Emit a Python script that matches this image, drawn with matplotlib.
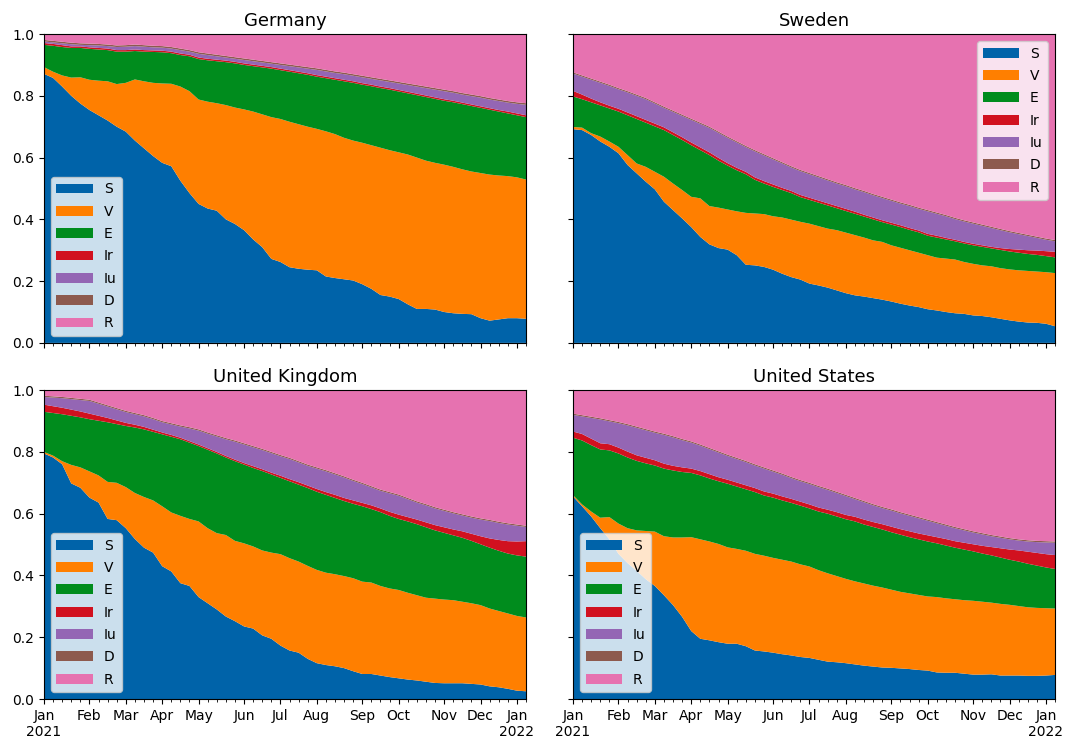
import numpy as np
import pandas as pd
import matplotlib
matplotlib.use("Agg")
import matplotlib.pyplot as plt
import matplotlib.dates as mdates

# weekly model output, Sundays from 3 Jan 2021
weeks = pd.date_range("2021-01-03", periods=54, freq="7D")

compartments = ["S", "V", "E", "Ir", "Iu", "D", "R"]
colors = ["#0063a9", "#ff7f00", "#008c1d", "#d1111f", "#9466b4", "#8d5a4e", "#e672b0"]

# s, v, e: upper edge of S, S+V, S+V+E
# ir, d: share in Ir and D
# top: upper edge of everything below R
de_s = [0.871, 0.858, 0.830, 0.800, 0.775, 0.754, 0.737, 0.720, 0.700, 0.684,
        0.655, 0.630, 0.605, 0.583, 0.572, 0.525, 0.485, 0.450, 0.435, 0.428,
        0.400, 0.385, 0.365, 0.335, 0.310, 0.272, 0.262, 0.245, 0.240, 0.237,
        0.235, 0.215, 0.210, 0.206, 0.202, 0.190, 0.175, 0.155, 0.150, 0.142,
        0.125, 0.110, 0.110, 0.108, 0.100, 0.096, 0.094, 0.093, 0.080, 0.072,
        0.076, 0.080, 0.080, 0.078]
de_v = [0.893, 0.878, 0.866, 0.859, 0.860, 0.852, 0.849, 0.847, 0.838, 0.842,
        0.853, 0.847, 0.842, 0.840, 0.839, 0.830, 0.815, 0.788, 0.781, 0.776,
        0.770, 0.762, 0.756, 0.749, 0.740, 0.731, 0.725, 0.716, 0.708, 0.700,
        0.693, 0.685, 0.676, 0.664, 0.655, 0.648, 0.640, 0.632, 0.624, 0.617,
        0.610, 0.600, 0.590, 0.583, 0.577, 0.570, 0.562, 0.555, 0.550, 0.545,
        0.542, 0.540, 0.536, 0.529]
de_e = [0.965, 0.962, 0.958, 0.955, 0.955, 0.952, 0.950, 0.948, 0.943, 0.943,
        0.945, 0.943, 0.942, 0.941, 0.938, 0.932, 0.928, 0.919, 0.915, 0.912,
        0.909, 0.905, 0.900, 0.896, 0.892, 0.888, 0.883, 0.878, 0.873, 0.868,
        0.862, 0.857, 0.852, 0.847, 0.842, 0.836, 0.831, 0.825, 0.820, 0.814,
        0.808, 0.802, 0.796, 0.790, 0.784, 0.779, 0.773, 0.767, 0.761, 0.755,
        0.749, 0.743, 0.737, 0.731]
de_ir = [0.006, 0.006, 0.006, 0.005, 0.005, 0.005, 0.005, 0.005, 0.005, 0.005,
         0.005, 0.005, 0.005, 0.005, 0.005, 0.005, 0.005, 0.005, 0.005, 0.005,
         0.005, 0.005, 0.005, 0.005, 0.005, 0.005, 0.005, 0.005, 0.005, 0.005,
         0.005, 0.005, 0.005, 0.005, 0.005, 0.005, 0.005, 0.005, 0.005, 0.005,
         0.005, 0.005, 0.005, 0.005, 0.005, 0.005, 0.005, 0.005, 0.005, 0.005,
         0.005, 0.006, 0.006, 0.006]
de_d = [0.005, 0.005, 0.005, 0.005, 0.005, 0.005, 0.005, 0.005, 0.005, 0.005,
        0.005, 0.005, 0.005, 0.005, 0.005, 0.005, 0.005, 0.005, 0.005, 0.005,
        0.005, 0.005, 0.005, 0.005, 0.005, 0.005, 0.005, 0.005, 0.005, 0.005,
        0.005, 0.005, 0.005, 0.005, 0.005, 0.005, 0.005, 0.005, 0.005, 0.005,
        0.005, 0.005, 0.005, 0.005, 0.005, 0.005, 0.005, 0.005, 0.005, 0.005,
        0.005, 0.005, 0.005, 0.005]
de_top = [0.981, 0.978, 0.975, 0.972, 0.970, 0.969, 0.968, 0.966, 0.963, 0.964,
          0.966, 0.964, 0.962, 0.961, 0.958, 0.953, 0.948, 0.941, 0.937, 0.933,
          0.929, 0.925, 0.921, 0.917, 0.913, 0.909, 0.905, 0.901, 0.897, 0.893,
          0.889, 0.884, 0.879, 0.875, 0.870, 0.865, 0.860, 0.855, 0.850, 0.845,
          0.840, 0.835, 0.830, 0.825, 0.820, 0.815, 0.809, 0.804, 0.799, 0.793,
          0.788, 0.783, 0.779, 0.776]

se_s = [0.692, 0.689, 0.673, 0.652, 0.635, 0.614, 0.576, 0.549, 0.522, 0.497,
        0.457, 0.430, 0.403, 0.375, 0.343, 0.319, 0.307, 0.302, 0.284, 0.253,
        0.251, 0.246, 0.237, 0.224, 0.213, 0.205, 0.192, 0.186, 0.179, 0.170,
        0.161, 0.154, 0.150, 0.145, 0.140, 0.134, 0.127, 0.121, 0.116, 0.109,
        0.105, 0.100, 0.096, 0.094, 0.089, 0.087, 0.083, 0.078, 0.073, 0.069,
        0.066, 0.065, 0.062, 0.054]
se_v = [0.699, 0.697, 0.679, 0.668, 0.652, 0.635, 0.608, 0.581, 0.570, 0.554,
        0.538, 0.516, 0.495, 0.473, 0.468, 0.443, 0.438, 0.432, 0.426, 0.421,
        0.419, 0.417, 0.410, 0.406, 0.399, 0.392, 0.386, 0.378, 0.370, 0.365,
        0.357, 0.349, 0.341, 0.332, 0.327, 0.316, 0.308, 0.300, 0.292, 0.284,
        0.276, 0.273, 0.270, 0.262, 0.256, 0.251, 0.248, 0.242, 0.238, 0.235,
        0.233, 0.231, 0.229, 0.226]
se_e = [0.798, 0.789, 0.779, 0.769, 0.759, 0.749, 0.737, 0.725, 0.713, 0.701,
        0.689, 0.673, 0.657, 0.640, 0.624, 0.608, 0.590, 0.574, 0.559, 0.546,
        0.528, 0.516, 0.505, 0.495, 0.485, 0.472, 0.463, 0.454, 0.445, 0.436,
        0.427, 0.418, 0.409, 0.400, 0.391, 0.383, 0.375, 0.366, 0.358, 0.347,
        0.341, 0.335, 0.329, 0.322, 0.316, 0.311, 0.306, 0.301, 0.296, 0.292,
        0.288, 0.285, 0.281, 0.277]
se_ir = [0.018, 0.015, 0.012, 0.010, 0.009, 0.009, 0.009, 0.009, 0.009, 0.009,
         0.009, 0.009, 0.009, 0.009, 0.009, 0.009, 0.009, 0.008, 0.008, 0.008,
         0.008, 0.008, 0.008, 0.007, 0.007, 0.007, 0.007, 0.007, 0.007, 0.007,
         0.007, 0.007, 0.006, 0.006, 0.006, 0.006, 0.006, 0.006, 0.006, 0.006,
         0.006, 0.005, 0.005, 0.005, 0.005, 0.005, 0.005, 0.006, 0.008, 0.010,
         0.012, 0.014, 0.016, 0.018]
se_d = [0.004, 0.004, 0.004, 0.004, 0.004, 0.004, 0.004, 0.004, 0.004, 0.004,
        0.004, 0.004, 0.004, 0.004, 0.004, 0.004, 0.004, 0.004, 0.004, 0.004,
        0.004, 0.004, 0.004, 0.004, 0.004, 0.004, 0.004, 0.004, 0.004, 0.004,
        0.004, 0.004, 0.004, 0.004, 0.004, 0.004, 0.004, 0.004, 0.004, 0.004,
        0.004, 0.004, 0.004, 0.004, 0.004, 0.004, 0.004, 0.004, 0.004, 0.004,
        0.004, 0.004, 0.004, 0.004]
se_top = [0.876, 0.866, 0.856, 0.846, 0.836, 0.825, 0.815, 0.804, 0.793, 0.779,
          0.765, 0.752, 0.739, 0.726, 0.713, 0.700, 0.684, 0.668, 0.653, 0.638,
          0.624, 0.611, 0.598, 0.585, 0.572, 0.560, 0.550, 0.540, 0.530, 0.520,
          0.511, 0.501, 0.492, 0.482, 0.473, 0.464, 0.455, 0.447, 0.438, 0.430,
          0.422, 0.414, 0.405, 0.397, 0.390, 0.383, 0.376, 0.369, 0.362, 0.356,
          0.350, 0.344, 0.338, 0.333]

uk_s = [0.795, 0.782, 0.760, 0.698, 0.684, 0.652, 0.636, 0.583, 0.579, 0.553,
        0.518, 0.490, 0.474, 0.430, 0.413, 0.375, 0.366, 0.330, 0.310, 0.290,
        0.267, 0.252, 0.235, 0.228, 0.206, 0.195, 0.173, 0.157, 0.150, 0.130,
        0.116, 0.110, 0.106, 0.100, 0.090, 0.081, 0.081, 0.076, 0.071, 0.067,
        0.063, 0.060, 0.056, 0.052, 0.051, 0.051, 0.051, 0.049, 0.047, 0.041,
        0.038, 0.033, 0.027, 0.025]
uk_v = [0.800, 0.788, 0.770, 0.758, 0.750, 0.737, 0.724, 0.703, 0.700, 0.686,
        0.667, 0.654, 0.643, 0.624, 0.604, 0.593, 0.583, 0.575, 0.553, 0.537,
        0.531, 0.512, 0.504, 0.494, 0.481, 0.474, 0.469, 0.456, 0.445, 0.431,
        0.418, 0.409, 0.404, 0.398, 0.391, 0.380, 0.377, 0.366, 0.358, 0.353,
        0.344, 0.336, 0.328, 0.325, 0.322, 0.320, 0.315, 0.310, 0.304, 0.293,
        0.285, 0.277, 0.269, 0.264]
uk_e = [0.930, 0.926, 0.922, 0.917, 0.912, 0.906, 0.901, 0.896, 0.890, 0.884,
        0.879, 0.873, 0.865, 0.857, 0.849, 0.841, 0.830, 0.819, 0.807, 0.795,
        0.782, 0.770, 0.759, 0.748, 0.738, 0.727, 0.716, 0.705, 0.694, 0.683,
        0.671, 0.661, 0.651, 0.641, 0.632, 0.624, 0.615, 0.605, 0.593, 0.583,
        0.575, 0.566, 0.556, 0.546, 0.538, 0.530, 0.522, 0.512, 0.501, 0.490,
        0.480, 0.471, 0.465, 0.461]
uk_ir = [0.023, 0.022, 0.021, 0.020, 0.019, 0.018, 0.016, 0.014, 0.012, 0.010,
         0.009, 0.008, 0.007, 0.006, 0.006, 0.005, 0.005, 0.005, 0.005, 0.005,
         0.005, 0.005, 0.005, 0.006, 0.006, 0.006, 0.007, 0.007, 0.008, 0.008,
         0.009, 0.009, 0.010, 0.010, 0.011, 0.011, 0.012, 0.012, 0.013, 0.014,
         0.014, 0.015, 0.016, 0.017, 0.018, 0.019, 0.021, 0.023, 0.026, 0.030,
         0.035, 0.040, 0.045, 0.050]
uk_d = [0.004, 0.004, 0.004, 0.004, 0.004, 0.004, 0.004, 0.004, 0.004, 0.004,
        0.004, 0.004, 0.004, 0.004, 0.004, 0.004, 0.004, 0.004, 0.004, 0.004,
        0.004, 0.004, 0.004, 0.004, 0.004, 0.004, 0.004, 0.004, 0.004, 0.004,
        0.004, 0.004, 0.004, 0.004, 0.004, 0.004, 0.004, 0.004, 0.004, 0.004,
        0.004, 0.004, 0.004, 0.004, 0.004, 0.004, 0.004, 0.004, 0.004, 0.004,
        0.004, 0.004, 0.004, 0.004]
uk_top = [0.982, 0.980, 0.978, 0.975, 0.972, 0.969, 0.960, 0.951, 0.942, 0.933,
          0.926, 0.919, 0.910, 0.900, 0.893, 0.886, 0.880, 0.873, 0.863, 0.854,
          0.845, 0.837, 0.828, 0.819, 0.810, 0.800, 0.790, 0.781, 0.770, 0.759,
          0.750, 0.741, 0.731, 0.721, 0.710, 0.700, 0.689, 0.678, 0.670, 0.662,
          0.651, 0.640, 0.631, 0.621, 0.613, 0.605, 0.598, 0.591, 0.585, 0.580,
          0.574, 0.569, 0.565, 0.561]

us_s = [0.656, 0.624, 0.591, 0.553, 0.517, 0.470, 0.440, 0.415, 0.388, 0.366,
        0.336, 0.304, 0.266, 0.220, 0.195, 0.190, 0.184, 0.179, 0.179, 0.171,
        0.157, 0.154, 0.150, 0.145, 0.141, 0.136, 0.133, 0.127, 0.121, 0.119,
        0.116, 0.112, 0.108, 0.105, 0.102, 0.101, 0.099, 0.097, 0.094, 0.092,
        0.086, 0.085, 0.085, 0.082, 0.079, 0.079, 0.080, 0.076, 0.076, 0.076,
        0.075, 0.075, 0.076, 0.078]
us_v = [0.660, 0.630, 0.607, 0.587, 0.589, 0.568, 0.553, 0.546, 0.544, 0.542,
        0.527, 0.523, 0.523, 0.524, 0.517, 0.510, 0.502, 0.491, 0.486, 0.480,
        0.470, 0.464, 0.457, 0.451, 0.445, 0.436, 0.429, 0.417, 0.407, 0.398,
        0.389, 0.381, 0.374, 0.367, 0.361, 0.354, 0.347, 0.342, 0.337, 0.332,
        0.330, 0.326, 0.323, 0.320, 0.318, 0.315, 0.312, 0.308, 0.305, 0.301,
        0.297, 0.295, 0.294, 0.293]
us_e = [0.846, 0.837, 0.822, 0.808, 0.805, 0.795, 0.782, 0.771, 0.763, 0.756,
        0.746, 0.740, 0.735, 0.732, 0.724, 0.714, 0.705, 0.697, 0.688, 0.679,
        0.670, 0.659, 0.652, 0.643, 0.635, 0.626, 0.617, 0.607, 0.600, 0.591,
        0.582, 0.575, 0.565, 0.557, 0.549, 0.540, 0.532, 0.524, 0.517, 0.510,
        0.504, 0.497, 0.490, 0.484, 0.478, 0.471, 0.465, 0.458, 0.451, 0.445,
        0.438, 0.432, 0.426, 0.421]
us_ir = [0.020, 0.021, 0.021, 0.020, 0.020, 0.019, 0.019, 0.018, 0.018, 0.017,
         0.016, 0.015, 0.015, 0.014, 0.014, 0.014, 0.013, 0.013, 0.013, 0.013,
         0.013, 0.013, 0.013, 0.013, 0.013, 0.013, 0.013, 0.013, 0.013, 0.014,
         0.014, 0.015, 0.016, 0.016, 0.017, 0.018, 0.018, 0.019, 0.019, 0.020,
         0.020, 0.021, 0.021, 0.022, 0.023, 0.025, 0.027, 0.030, 0.033, 0.036,
         0.039, 0.041, 0.043, 0.045]
us_d = [0.004, 0.004, 0.004, 0.004, 0.004, 0.004, 0.004, 0.004, 0.004, 0.004,
        0.004, 0.004, 0.004, 0.004, 0.004, 0.004, 0.004, 0.004, 0.004, 0.004,
        0.004, 0.004, 0.004, 0.004, 0.004, 0.004, 0.004, 0.004, 0.004, 0.004,
        0.004, 0.004, 0.004, 0.004, 0.004, 0.004, 0.004, 0.004, 0.004, 0.004,
        0.004, 0.004, 0.004, 0.004, 0.004, 0.004, 0.004, 0.004, 0.004, 0.004,
        0.004, 0.004, 0.004, 0.004]
us_top = [0.924, 0.919, 0.914, 0.909, 0.903, 0.897, 0.890, 0.882, 0.874, 0.866,
          0.859, 0.851, 0.842, 0.834, 0.824, 0.813, 0.802, 0.791, 0.781, 0.771,
          0.760, 0.750, 0.740, 0.730, 0.719, 0.709, 0.700, 0.690, 0.681, 0.671,
          0.661, 0.651, 0.641, 0.631, 0.622, 0.614, 0.605, 0.597, 0.589, 0.581,
          0.573, 0.565, 0.557, 0.550, 0.543, 0.537, 0.531, 0.526, 0.521, 0.517,
          0.514, 0.512, 0.511, 0.510]


def bands(s, v, e, ir, d, top):
    s, v, e, ir, d, top = (np.asarray(a) for a in (s, v, e, ir, d, top))
    iu = top - d - e - ir
    return [s, v - s, e - v, ir, iu, d, 1.0 - top]


panels = [
    ("Germany", bands(de_s, de_v, de_e, de_ir, de_d, de_top), "lower left"),
    ("Sweden", bands(se_s, se_v, se_e, se_ir, se_d, se_top), "upper right"),
    ("United Kingdom", bands(uk_s, uk_v, uk_e, uk_ir, uk_d, uk_top), "lower left"),
    ("United States", bands(us_s, us_v, us_e, us_ir, us_d, us_top), "lower left"),
]

x = mdates.date2num(weeks.to_pydatetime())

# month ticks sit on the first weekly point of each month
month_ticks, month_labels = [], []
prev = None
for xi, day in zip(x, weeks):
    if day.month != prev:
        month_ticks.append(xi)
        label = day.strftime("%b")
        if day.month == 1:
            label += "\n" + str(day.year)
        month_labels.append(label)
        prev = day.month

fig, axes = plt.subplots(2, 2, figsize=(10.67, 7.4), dpi=100, sharex=True, sharey=True)
fig.subplots_adjust(left=0.0412, right=0.9888, top=0.954, bottom=0.0554,
                    wspace=0.0975, hspace=0.153)

for ax, (name, ys, loc) in zip(axes.flat, panels):
    ax.stackplot(x, ys, labels=compartments, colors=colors)
    ax.set_title(name, fontsize=13)
    ax.legend(loc=loc, handlelength=2.6, labelspacing=0.6)
    ax.set_ylim(0, 1)
    ax.set_xlim(x[0], x[-1])

axes[1, 0].set_xticks(month_ticks, month_labels)
axes[1, 0].set_xticks(x, minor=True)

fig.savefig("out.png", dpi=100)
